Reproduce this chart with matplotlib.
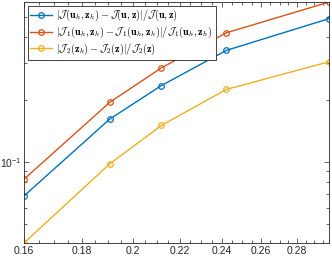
import numpy as np
import matplotlib.pyplot as plt
from matplotlib.ticker import FixedLocator, NullFormatter, FixedFormatter

plt.rcParams['mathtext.fontset'] = 'cm'
plt.rcParams['font.family'] = ['Liberation Sans', 'DejaVu Sans']

# mesh size h and relative errors
h = [0.160, 0.1907, 0.2120, 0.2421, 0.2988]
err_J = [0.0684, 0.161, 0.234, 0.346, 0.493]
err_J1 = [0.0824, 0.194, 0.285, 0.421, 0.593]
err_J2 = [0.0405, 0.0978, 0.150, 0.224, 0.305]

labels = [
    r'$|\mathcal{J}(\mathbf{u}_h,\mathbf{z}_h)-\mathcal{J}(\mathbf{u},\mathbf{z})|/\mathcal{J}(\mathbf{u},\mathbf{z})$',
    r'$|\mathcal{J}_1(\mathbf{u}_h,\mathbf{z}_h)-\mathcal{J}_1(\mathbf{u}_h,\mathbf{z}_h)|/\mathcal{J}_1(\mathbf{u}_h,\mathbf{z}_h)$',
    r'$|\mathcal{J}_2(\mathbf{z}_h)-\mathcal{J}_2(\mathbf{z})|/\mathcal{J}_2(\mathbf{z})$',
]
colors = ['#0072BD', '#D95319', '#EDB120']

fig = plt.figure(figsize=(3.32, 2.59), dpi=100)
ax = fig.add_axes([0.0723, 0.0618, 0.9187, 0.9302])

for y, lab, c in zip([err_J, err_J1, err_J2], labels, colors):
    ax.loglog(h, y, '-o', color=c, lw=1.0, ms=4, mfc='none', mew=0.9, label=lab)

ax.set_xlim(min(h), max(h))
ax.set_ylim(min(err_J2), max(err_J1))

xt = [0.16, 0.18, 0.2, 0.22, 0.24, 0.26, 0.28]
ax.xaxis.set_major_locator(FixedLocator(xt))
ax.xaxis.set_major_formatter(FixedFormatter(['0.16', '0.18', '0.2', '0.22', '0.24', '0.26', '0.28']))
ax.xaxis.set_minor_locator(FixedLocator(np.arange(0.16, 0.30, 0.005)))
ax.xaxis.set_minor_formatter(NullFormatter())

ax.yaxis.set_major_locator(FixedLocator([0.1]))
ax.yaxis.set_major_formatter(FixedFormatter([r'$\mathregular{10^{-1}}$']))
ax.yaxis.set_minor_locator(FixedLocator([0.04, 0.05, 0.06, 0.07, 0.08, 0.09, 0.2, 0.3, 0.4, 0.5, 0.6]))
ax.yaxis.set_minor_formatter(NullFormatter())

ax.tick_params(which='both', direction='in', top=True, right=True, labelsize=7.5,
               color='#262626', labelcolor='#262626', width=0.5)
ax.tick_params(which='major', length=3.5, pad=2)
ax.tick_params(which='minor', length=2)
for s in ax.spines.values():
    s.set_color('#262626')
    s.set_linewidth(0.6)

leg = ax.legend(loc='upper left', fontsize=7.3, frameon=True, fancybox=False,
                edgecolor='#262626', framealpha=1, borderpad=0.25, labelspacing=0.15,
                handlelength=2.2, handletextpad=0.4, borderaxespad=0.35)
leg.get_frame().set_linewidth(0.6)

fig.savefig('out.png', dpi=100)
